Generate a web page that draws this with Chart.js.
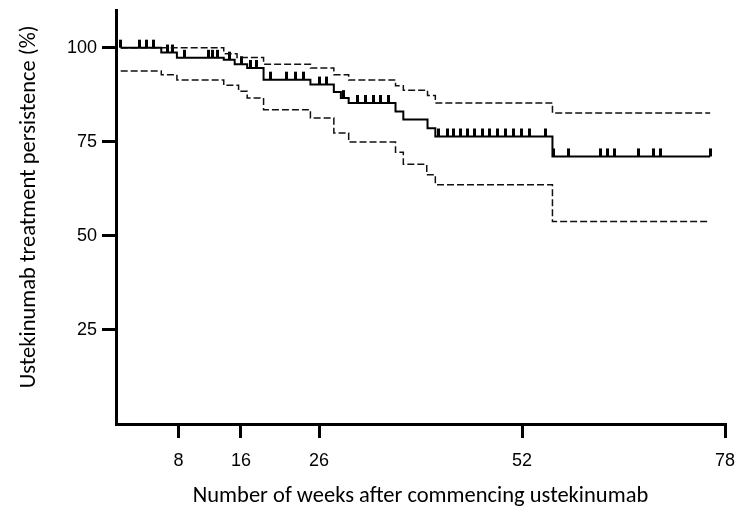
<!DOCTYPE html>
<html>
<head>
<meta charset="utf-8">
<script src="https://cdn.jsdelivr.net/npm/chart.js@4"></script>
<style>
  html, body { margin: 0; padding: 0; background: #fff; }
  #wrap { width: 737px; height: 517px; }
</style>
</head>
<body>
<div id="wrap"><canvas id="km" width="737" height="517"></canvas></div>
<script>
// Kaplan-Meier estimate (weeks, % persisting)
const kmWeeks = [0.6, 5.8, 7.8, 13.8, 15.2, 16.8, 18.9, 24.9, 27.9, 28.8, 29.8, 35.8, 36.8, 39.9, 40.9, 55.9, 76.1];
const kmValues = [100, 98.7, 97.3, 96.8, 95.6, 94.6, 91.5, 90.2, 88.2, 86.6, 85.3, 83.0, 80.9, 78.6, 76.4, 71.1, 71.1];

// 95% confidence band
const upperWeeks = [0.6, 13.8, 15.5, 18.9, 24.9, 27.9, 29.8, 35.8, 36.8, 39.9, 40.9, 55.9, 76.1];
const upperValues = [100, 98.4, 97.4, 95.6, 94.6, 92.8, 91.4, 89.9, 88.7, 87.3, 85.3, 82.6, 82.6];
const lowerWeeks = [0.6, 5.8, 7.8, 13.8, 15.7, 16.8, 18.9, 24.9, 27.9, 29.8, 35.8, 36.8, 39.8, 40.9, 55.9, 76.1];
const lowerValues = [93.8, 92.8, 91.4, 90.0, 88.4, 86.6, 83.5, 81.3, 77.3, 74.9, 72.2, 69.0, 66.2, 63.6, 53.8, 53.8];

// censored patients
const censorWeeks = [0.6, 3.0, 3.9, 4.8, 6.6, 7.2, 8.8, 11.9, 12.4, 13.0, 14.6, 16.1, 17.2, 18.0,
  19.8, 21.9, 23.0, 24.0, 26.0, 27.0, 29.2, 30.9, 31.9, 33.0, 33.9, 34.9,
  41.3, 42.4, 43.2, 44.1, 45.0, 45.9, 46.9, 47.9, 48.8, 49.9, 50.9, 51.9, 53.0, 55.0,
  56.0, 58.0, 62.0, 62.9, 63.8, 66.9, 68.8, 69.8, 76.1];
const censorValues = [100, 100, 100, 100, 98.7, 98.7, 97.3, 97.3, 97.3, 97.3, 96.8, 95.6, 94.6, 94.6,
  91.5, 91.5, 91.5, 91.5, 90.2, 90.2, 86.6, 85.3, 85.3, 85.3, 85.3, 85.3,
  76.4, 76.4, 76.4, 76.4, 76.4, 76.4, 76.4, 76.4, 76.4, 76.4, 76.4, 76.4, 76.4, 76.4,
  71.1, 71.1, 71.1, 71.1, 71.1, 71.1, 71.1, 71.1, 71.1];

const xTicks = [8, 16, 26, 52, 78];
const yTicks = [25, 50, 75, 100];

const toPoints = (xs, ys) => xs.map((x, i) => ({ x, y: ys[i] }));

// censor mark: short upright bar sitting on the curve
const censorMark = document.createElement("canvas");
censorMark.width = 3;
censorMark.height = 18;
const cm = censorMark.getContext("2d");
cm.fillStyle = "#000";
cm.fillRect(0, 1, 3, 8);

const tickFont = { family: "'Liberation Sans', Arial, sans-serif", size: 18 };
const titleFont = { family: "Carlito, Lato, sans-serif", size: 22.5 };

const dashed = {
  borderColor: "#111",
  borderWidth: 1.5,
  borderDash: [7, 3],
  stepped: true,
  pointRadius: 0,
  fill: false,
};

// keep the plot box where the original has it
function noEdgePadding(s) {
  s.paddingTop = 0;
  s.paddingBottom = 0;
  s.paddingLeft = 0;
  s.paddingRight = 0;
}

new Chart(document.getElementById("km"), {
  type: "line",
  data: {
    datasets: [
      { data: toPoints(kmWeeks, kmValues), borderColor: "#000", borderWidth: 2, stepped: true, pointRadius: 0, fill: false },
      { data: toPoints(upperWeeks, upperValues), ...dashed },
      { data: toPoints(lowerWeeks, lowerValues), ...dashed },
      { data: toPoints(censorWeeks, censorValues), showLine: false, pointStyle: censorMark, pointRadius: 3 },
    ],
  },
  options: {
    responsive: false,
    animation: false,
    layout: { padding: { top: 10, right: 12, left: 0, bottom: 0 } },
    plugins: { legend: { display: false }, tooltip: { enabled: false } },
    scales: {
      x: {
        type: "linear",
        min: 0,
        max: 78,
        afterBuildTicks: (s) => { s.ticks = xTicks.map((v) => ({ value: v })); },
        afterFit: (s) => { s.height = 93; noEdgePadding(s); },
        grid: { drawOnChartArea: false, drawTicks: true, tickLength: 14, color: "#000", lineWidth: 3 },
        border: { display: true, color: "#000", width: 3 },
        ticks: { color: "#000", font: tickFont, padding: 12, maxRotation: 0, autoSkip: false },
        title: {
          display: true,
          text: "Number of weeks after commencing ustekinumab",
          color: "#000",
          font: titleFont,
          padding: { top: 0, bottom: 7 },
        },
      },
      y: {
        type: "linear",
        min: 0,
        max: 110,
        afterBuildTicks: (s) => { s.ticks = yTicks.map((v) => ({ value: v })); },
        afterFit: (s) => { s.width = 116; noEdgePadding(s); },
        grid: { drawOnChartArea: false, drawTicks: true, tickLength: 14, color: "#000", lineWidth: 3 },
        border: { display: true, color: "#000", width: 3 },
        ticks: { color: "#000", font: tickFont, padding: 5 },
        title: {
          display: true,
          // leading spaces nudge the rotated title up a little, as in the original
          text: "    Ustekinumab treatment persistence (%)",
          color: "#000",
          font: titleFont,
          padding: { top: 16, bottom: 0 },
        },
      },
    },
  },
});
</script>
</body>
</html>
